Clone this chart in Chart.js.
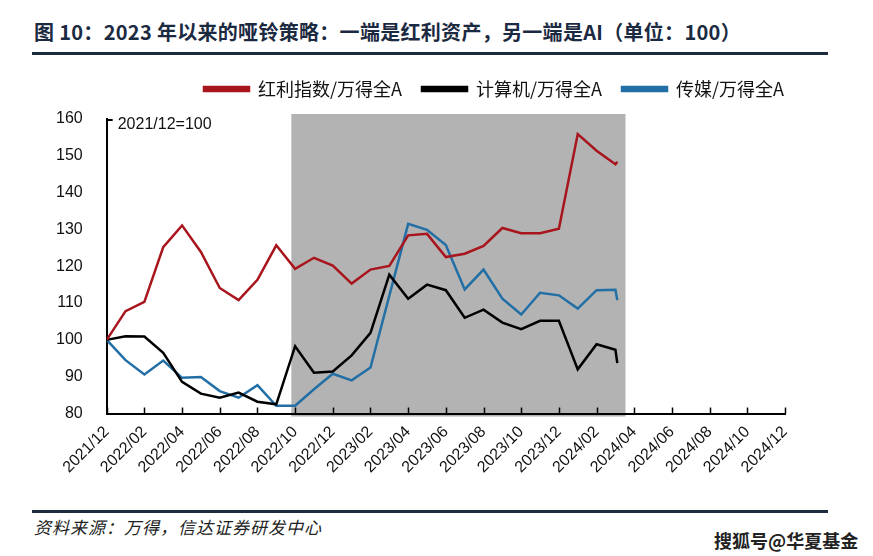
<!DOCTYPE html>
<html>
<head>
<meta charset="utf-8">
<script src="https://cdn.jsdelivr.net/npm/chart.js@4.4.1/dist/chart.umd.min.js"></script>
<style>
  html, body { margin: 0; padding: 0; background: #fff; }
  body { width: 873px; height: 556px; position: relative; overflow: hidden; font-family: "Noto Sans CJK SC", sans-serif; }
  #title { position: absolute; left: 34px; top: 17px; font-size: 20px; font-weight: bold; color: #1b2a41; white-space: nowrap; letter-spacing: 0.3px; }
  .rule { position: absolute; left: 32px; width: 796px; height: 3px; background: #1d2b3e; }
  #wrap { position: absolute; left: 0; top: 60px; width: 873px; height: 450px; }
  #src { position: absolute; left: 34px; top: 514px; font-size: 17px; font-style: italic; color: #222; letter-spacing: 1px; white-space: nowrap; }
  #mark { position: absolute; left: 714px; top: 527px; font-size: 18px; font-weight: bold; color: #222; white-space: nowrap; text-shadow: 0 0 2px #fff; }
</style>
</head>
<body>
<div id="title">图 10：2023 年以来的哑铃策略：一端是红利资产，另一端是AI（单位：100）</div>
<div class="rule" style="top:52px"></div>
<div id="wrap"><canvas id="chart" width="873" height="450"></canvas></div>
<div class="rule" style="top:510px"></div>
<div id="src">资料来源：万得，信达证券研发中心</div>
<div id="mark">搜狐号@华夏基金</div>
<script>
const months = ['2021/12', '2022/01', '2022/02', '2022/03', '2022/04', '2022/05', '2022/06', '2022/07',
    '2022/08', '2022/09', '2022/10', '2022/11', '2022/12', '2023/01', '2023/02', '2023/03', '2023/04',
    '2023/05', '2023/06', '2023/07', '2023/08', '2023/09', '2023/10', '2023/11', '2023/12', '2024/01',
    '2024/02', '2024/03', '2024/03/04'];

const dividend = [100, 107.8, 110.3, 125.2, 131.1, 123.9, 114.1, 110.8, 116.3, 125.7, 119.3, 122.3, 120.2,
    115.3, 119.1, 120.1, 128.4, 128.8, 122.5, 123.4, 125.5, 130.4, 129.0, 129.0, 130.2, 155.9, 151.4, 147.7, 148.4];
const computer = [100, 101.0, 100.9, 96.5, 88.6, 85.4, 84.3, 85.7, 83.2, 82.5, 98.3, 91.1, 91.4,
    95.8, 101.9, 117.7, 111.2, 115.0, 113.5, 106.0, 108.2, 104.7, 102.9, 105.2, 105.2, 92.0, 98.8, 97.3, 93.7];
const media = [100, 94.5, 90.6, 94.4, 89.7, 89.9, 86.1, 84.3, 87.7, 82.1, 82.1, 86.6, 90.8,
    89.0, 92.5, 112.0, 131.5, 129.9, 125.8, 113.7, 119.1, 111.2, 106.9, 112.8, 112.1, 108.5, 113.5, 113.6, 110.8];

const seriesNames = ['红利指数/万得全A', '计算机/万得全A', '传媒/万得全A'];
const tickLabels = ['2021/12', '2022/02', '2022/04', '2022/06', '2022/08', '2022/10', '2022/12', '2023/02',
    '2023/04', '2023/06', '2023/08', '2023/10', '2023/12', '2024/02', '2024/04', '2024/06', '2024/08',
    '2024/10', '2024/12'];
const yTicks = [80, 90, 100, 110, 120, 130, 140, 150, 160];
const shadePeriod = ['2022/09/25', '2024/03/17'];
const baseNote = '2021/12=100';

// months since 2021/12, days as fraction of a month
function toX(label) {
    const [y, m, d] = label.split('/').map(Number);
    return (y - 2021) * 12 + (m - 12) + (d ? (d - 1) / 30 : 0);
}

const points = (values) => months.map((m, i) => ({ x: toX(m), y: values[i] }));

const decor = {
    id: 'decor',
    beforeInit(chart) {
        // leave a bit more room under the legend
        const fit = chart.legend.fit;
        chart.legend.fit = function () {
            fit.call(this);
            this.height += 11;
        };
    },
    afterLayout(chart) {
        // legend sits flush with the right end of the x axis
        chart.legend.left += 19;
        chart.legend.right += 19;
    },
    beforeDraw(chart) {
        const { ctx, chartArea, scales: { x } } = chart;
        const x0 = x.getPixelForValue(toX(shadePeriod[0]));
        const x1 = x.getPixelForValue(toX(shadePeriod[1]));
        ctx.save();
        ctx.fillStyle = '#b3b3b3';
        ctx.fillRect(x0, chartArea.top - 5, x1 - x0, chartArea.bottom - chartArea.top + 8);
        ctx.restore();
    },
    afterDatasetsDraw(chart) {
        const { ctx, chartArea, scales: { x } } = chart;
        ctx.save();
        ctx.strokeStyle = '#000';
        ctx.lineWidth = 1.5;
        x.ticks.forEach((t) => {
            const px = Math.round(x.getPixelForValue(t.value)) + 0.5;
            ctx.beginPath();
            ctx.moveTo(px, chartArea.bottom);
            ctx.lineTo(px, chartArea.bottom - 6);
            ctx.stroke();
        });
        ctx.lineWidth = 2;
        ctx.beginPath();
        ctx.moveTo(chartArea.left, chartArea.top + 1);
        ctx.lineTo(chartArea.left + 6, chartArea.top + 1);
        ctx.stroke();
        ctx.fillStyle = '#111';
        ctx.font = '16px "Liberation Sans", Arial, sans-serif';
        ctx.textBaseline = 'middle';
        ctx.fillText(baseNote, chartArea.left + 11, chartArea.top + 6);
        ctx.restore();
    },
};

new Chart(document.getElementById('chart'), {
    type: 'line',
    data: {
        datasets: [
            { label: seriesNames[0], data: points(dividend), borderColor: '#a8151d', backgroundColor: '#a8151d' },
            { label: seriesNames[1], data: points(computer), borderColor: '#000000', backgroundColor: '#000000' },
            { label: seriesNames[2], data: points(media), borderColor: '#226fa6', backgroundColor: '#226fa6' },
        ],
    },
    options: {
        responsive: false,
        animation: false,
        layout: { padding: { top: 0, left: 32, right: 88, bottom: 24 } },
        elements: {
            line: { borderWidth: 2.5, tension: 0 },
            point: { radius: 0 },
        },
        scales: {
            x: {
                type: 'linear',
                min: 0,
                max: 36,
                afterBuildTicks: (scale) => {
                    scale.ticks = tickLabels.map((t) => ({ value: toX(t) }));
                },
                grid: { drawOnChartArea: false, drawTicks: false },
                border: { color: '#000', width: 2 },
                ticks: {
                    autoSkip: false,
                    maxRotation: 45,
                    minRotation: 45,
                    padding: 9,
                    color: '#111',
                    font: { family: '"Liberation Sans", Arial, sans-serif', size: 16 },
                    callback: (v, i) => tickLabels[i],
                },
            },
            y: {
                min: 80,
                max: 160,
                afterBuildTicks: (scale) => {
                    scale.ticks = yTicks.map((v) => ({ value: v }));
                },
                grid: { drawOnChartArea: false, drawTicks: false },
                border: { color: '#000', width: 2 },
                ticks: {
                    padding: 24,
                    color: '#111',
                    font: { family: '"Liberation Sans", Arial, sans-serif', size: 16 },
                },
            },
        },
        plugins: {
            legend: {
                position: 'top',
                align: 'end',
                labels: {
                    boxWidth: 45,
                    boxHeight: 4,
                    padding: 20,
                    color: '#111',
                    font: { family: '"Noto Sans CJK SC", sans-serif', size: 18 },
                },
            },
            tooltip: { enabled: false },
        },
    },
    plugins: [decor],
});
</script>
</body>
</html>
